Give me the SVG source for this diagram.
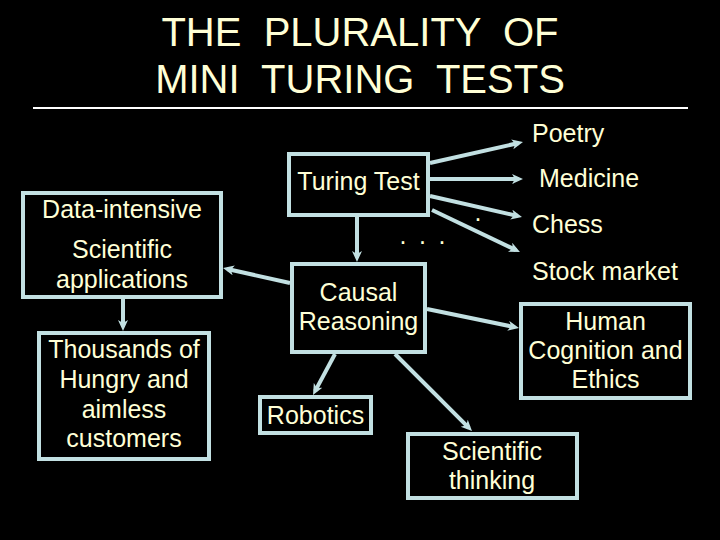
<svg xmlns="http://www.w3.org/2000/svg" width="720" height="540" viewBox="0 0 720 540">
<defs>
<style>
.bg{fill:#000}
.box{fill:#000;stroke:#C2E0E2;stroke-width:4}
.t{font-family:"Liberation Sans",Arial,sans-serif;font-size:25px;fill:#FFFFD6}
.c{text-anchor:middle}
.title{font-family:"Liberation Sans",Arial,sans-serif;font-size:40px;fill:#FFFFD6;text-anchor:middle}
.conn line{stroke:#C2E0E2;stroke-width:4;fill:none;marker-end:url(#ah)}
</style>
<marker id="ah" markerUnits="userSpaceOnUse" markerWidth="12" markerHeight="11" refX="6.6" refY="5" orient="auto">
<path d="M0,0 L11,5 L0,10 L3,5 Z" fill="#C2E0E2"/>
</marker>
</defs>
<rect class="bg" x="0" y="0" width="720" height="540"/>
<g id="title">
<text class="title" x="360" y="46" xml:space="preserve">THE  PLURALITY  OF</text>
<text class="title" x="360" y="93" xml:space="preserve">MINI  TURING  TESTS</text>
<line x1="33" y1="108" x2="688" y2="108" stroke="#FFFFFF" stroke-width="2"/>
</g>
<g class="conn" id="connectors">
<line x1="430" y1="163" x2="518.7" y2="143"/>
<line x1="430" y1="179" x2="518.6" y2="179"/>
<line x1="430" y1="196" x2="517.7" y2="216"/>
<line x1="432" y1="210" x2="516" y2="250.1"/>
<line x1="357" y1="217" x2="357" y2="257.6"/>
<line x1="290" y1="283" x2="227.3" y2="269"/>
<line x1="123" y1="299" x2="123" y2="326.6"/>
<line x1="427" y1="309" x2="514.7" y2="327.1"/>
<line x1="335" y1="354" x2="315.1" y2="391.1"/>
<line x1="395" y1="354" x2="468.9" y2="427.9"/>
</g>
<g id="dots">
<text class="t" x="399.5" y="243.5" letter-spacing="2.8">. . .</text>
<text class="t" x="474.5" y="220.5">.</text>
</g>
<g id="turing">
<rect class="box" x="289" y="154" width="139" height="61"/>
<text class="t c" x="358.5" y="190">Turing Test</text>
</g>
<g id="causal">
<rect class="box" x="292" y="264" width="133" height="88"/>
<text class="t c" x="358.5" y="301">Causal</text>
<text class="t c" x="358.5" y="330">Reasoning</text>
</g>
<g id="data">
<rect class="box" x="23" y="193" width="198" height="104"/>
<text class="t c" x="122" y="218">Data-intensive</text>
<text class="t c" x="122" y="258">Scientific</text>
<text class="t c" x="122" y="288">applications</text>
</g>
<g id="thousands">
<rect class="box" x="39" y="333" width="170" height="126"/>
<text class="t c" x="124" y="358">Thousands of</text>
<text class="t c" x="124" y="388">Hungry and</text>
<text class="t c" x="124" y="418">aimless</text>
<text class="t c" x="124" y="447">customers</text>
</g>
<g id="human">
<rect class="box" x="521" y="304" width="169" height="94"/>
<text class="t c" x="605.5" y="330">Human</text>
<text class="t c" x="605.5" y="359">Cognition and</text>
<text class="t c" x="605.5" y="388">Ethics</text>
</g>
<g id="robotics">
<rect class="box" x="260" y="397" width="111" height="36"/>
<text class="t c" x="315.5" y="424">Robotics</text>
</g>
<g id="scithink">
<rect class="box" x="408" y="434" width="169" height="64"/>
<text class="t c" x="492" y="460">Scientific</text>
<text class="t c" x="492" y="489">thinking</text>
</g>
<g id="poetry"><text class="t" x="532" y="142">Poetry</text></g>
<g id="medicine"><text class="t" x="539" y="187">Medicine</text></g>
<g id="chess"><text class="t" x="532" y="233">Chess</text></g>
<g id="stock"><text class="t" x="532" y="280">Stock market</text></g>
</svg>
